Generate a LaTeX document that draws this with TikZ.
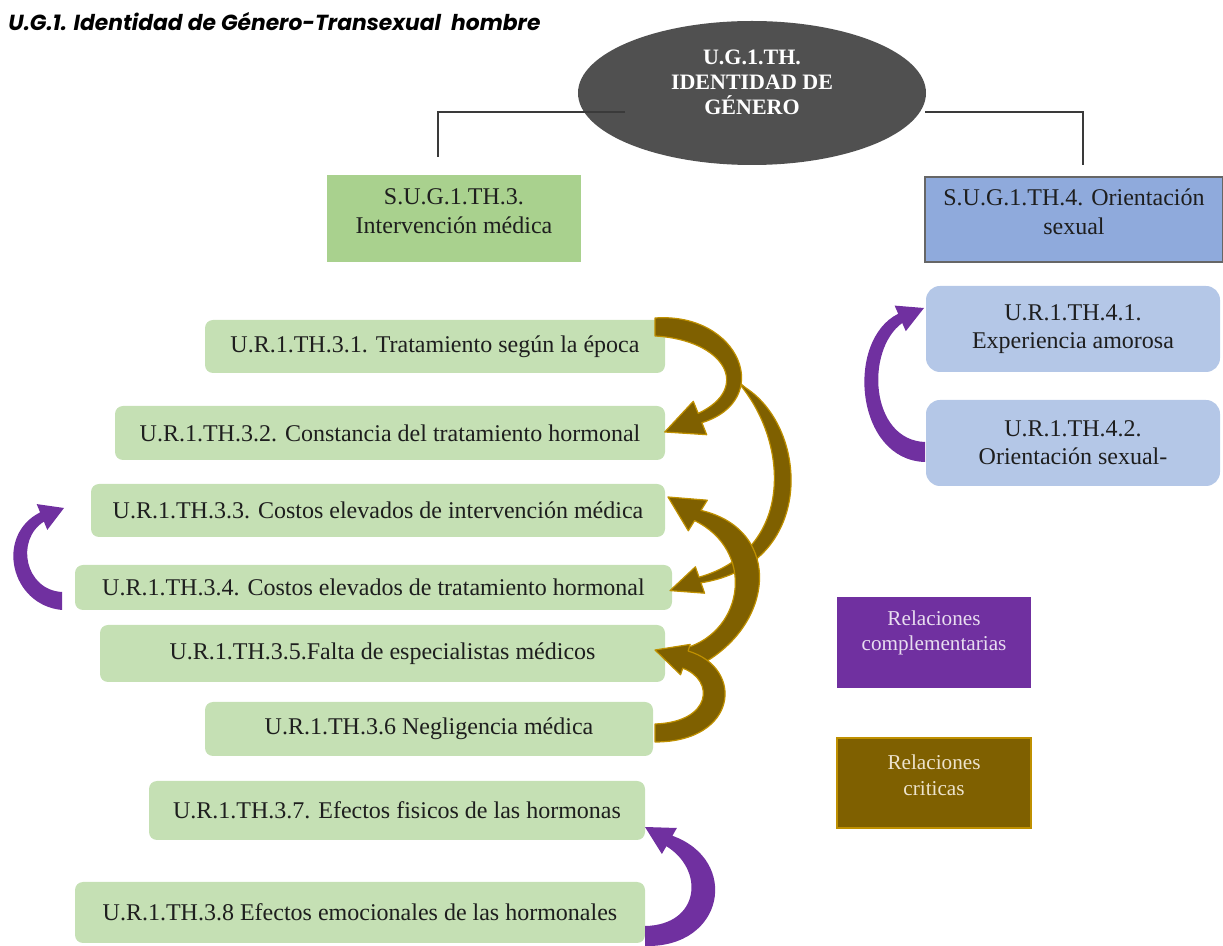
\documentclass[tikz,border=0pt]{standalone}
\usepackage{fontspec}
\setmainfont{Liberation Serif}
\newfontfamily\titlefont{Poppins}
\usetikzlibrary{shapes.geometric}
\definecolor{hdrgreen}{HTML}{A9D18E}
\definecolor{boxgreen}{HTML}{C5E0B4}
\definecolor{hdrblue}{HTML}{8FAADC}
\definecolor{boxblue}{HTML}{B4C7E7}
\definecolor{comppurple}{HTML}{7030A0}
\definecolor{critbrown}{HTML}{7F6000}
\definecolor{critgold}{HTML}{BF9000}
\definecolor{ellgray}{HTML}{505050}
\definecolor{txtdark}{HTML}{1E1E1E}
\definecolor{linegray}{HTML}{3A3A3A}
\definecolor{legtxtp}{HTML}{E8DDF0}
\definecolor{legtxtb}{HTML}{EDE3CC}
\begin{document}
\begin{tikzpicture}[x=0.5pt,y=-0.5pt,
  every node/.style={inner sep=0pt},
  lbox/.style={fill=boxgreen, rounded corners=4pt, text=txtdark, align=center,
    font=\fontsize{12}{14}\selectfont},
  rbox/.style={fill=boxblue, rounded corners=7pt, text=txtdark, align=center,
    font=\fontsize{12}{14}\selectfont},
  hbox/.style={text=txtdark, align=center, font=\fontsize{12}{14.5}\selectfont},
  legbox/.style={align=center, font=\fontsize{10.6}{12.8}\selectfont},
  conn/.style={draw=linegray, line width=1.3pt},
  crit/.style={fill=critbrown, draw=critgold, line width=0.6pt, line join=round},
  comp/.style={fill=comppurple, line join=round}]
\useasboundingbox (0,0) rectangle (1223,946);

% title
\node[anchor=west, font=\titlefont\fontsize{10.9}{13}\selectfont\bfseries\itshape] (title) at (8,22)
  {U.G.1. Identidad de Género-Transexual\ \ hombre};

% central ellipse
\node[ellipse, fill=ellgray, minimum width=174pt, minimum height=72pt] (ug) at (752,93) {};
\node[text=white, align=center, font=\fontsize{11}{12.5}\selectfont\bfseries] (ugt) at (752,82)
  {U.G.1.TH.\\IDENTIDAD DE\\GÉNERO};

% header boxes
\node[fill=hdrgreen, minimum width=127pt, minimum height=43.5pt] (s3) at (454,218.5) {};
\node[hbox] (s3t) at (454,211.5) {S.U.G.1.TH.3.\\Intervención médica};
\node[fill=hdrblue, draw=gray!80!black, line width=0.6pt, minimum width=149pt, minimum height=42.5pt] (s4) at (1074,219.5) {};
\node[hbox] (s4t) at (1074,211.5) {S.U.G.1.TH.4. Orientación\\sexual};

% connector lines
\coordinate (lA) at (625,112);
\coordinate (lB) at (438,112);
\coordinate (lC) at (438,157);
\coordinate (rA) at (925,112);
\coordinate (rB) at (1083,112);
\coordinate (rC) at (1083,165);
\draw[conn] (lA) -- (lB) -- (lC);
\draw[conn] (rA) -- (rB) -- (rC);

% right boxes
\node[rbox, minimum width=147pt, minimum height=43pt] (r41) at (1073,329) {U.R.1.TH.4.1.\\Experiencia amorosa};
\node[rbox, minimum width=147pt, minimum height=43pt] (r42) at (1073,443) {U.R.1.TH.4.2.\\Orientación sexual-};

% left boxes
\node[lbox, minimum width=230pt, minimum height=26.5pt] (b1) at (435,346.5) {U.R.1.TH.3.1. Tratamiento según la época};
\node[lbox, minimum width=275pt, minimum height=27pt] (b2) at (390,433) {U.R.1.TH.3.2. Constancia del tratamiento hormonal};
\node[lbox, minimum width=287pt, minimum height=26.5pt] (b3) at (378,510.5) {U.R.1.TH.3.3. Costos elevados de intervención médica};
\node[lbox, minimum width=298.5pt, minimum height=22.5pt] (b4) at (373.5,587.5) {U.R.1.TH.3.4. Costos elevados de tratamiento hormonal};
\node[lbox, minimum width=282.5pt, minimum height=28.5pt] (b5) at (382.5,653.5) {U.R.1.TH.3.5.Falta de especialistas médicos};
\node[lbox, minimum width=224pt, minimum height=27pt] (b6) at (429,729) {U.R.1.TH.3.6 Negligencia médica};
\node[lbox, minimum width=248pt, minimum height=29.5pt] (b7) at (397,810.5) {U.R.1.TH.3.7. Efectos fisicos de las hormonas};
\node[lbox, minimum width=285pt, minimum height=30.5pt] (b8) at (360,912.5) {U.R.1.TH.3.8 Efectos emocionales de las hormonales};

% legend
\node[fill=comppurple, minimum width=97pt, minimum height=45.5pt] (legc) at (934,642.5) {};
\node[legbox, text=legtxtp] (legct) at (934,633) {Relaciones\\complementarias};
\node[fill=critbrown, draw=critgold, line width=0.6pt, minimum width=97pt, minimum height=45pt] (legk) at (934,783) {};
\node[legbox, text=legtxtb] (legkt) at (934,775) {Relaciones\\criticas};

% critical (brown) arrows
% A2: b1 -> b4 (thin, behind A1)
\path[crit] (746,388) .. controls (810,430) and (815,565) .. (701,582.8) -- (704.6,593.2) -- (670,590.6)
  -- (695.4,566.8) -- (699,577.2) .. controls (795,550) and (790,440) .. (736,380) -- cycle;
% A1: b1 -> b2
\path[crit] (655,318) .. controls (740,312) and (775,400) .. (701.9,422.7) -- (706.7,434.7) -- (664.7,432)
  -- (693.3,401.3) -- (698.2,413.4) .. controls (752,388) and (725,340) .. (655,336) -- cycle;
% A3: b5 -> b3
\path[crit] (694,668) .. controls (775,630) and (785,530) .. (701,510.4) -- (707.3,500.2) -- (668,497)
  -- (688.3,530.8) -- (694.6,520.6) .. controls (755,550) and (745,630) .. (686,648) -- cycle;
% A4: b6 -> b5
\path[crit] (655,742) .. controls (738,742) and (745,668) .. (688.1,651) -- (690.2,644.4) -- (655,650)
  -- (680.6,674.8) -- (682.7,668.2) .. controls (715,680) and (712,722) .. (655,724) -- cycle;

% complementary (purple) arrows
% P1: b4 -> b3 (left)
\path[comp] (62,610) .. controls (10,605) and (-5,535) .. (40.1,512.4) -- (36.7,504.1) -- (64,508)
  -- (47.3,529.9) -- (43.9,521.6) .. controls (15,540) and (25,590) .. (62,592) -- cycle;
% P2: b8 -> b7
\path[comp] (645,946) .. controls (725,948) and (740,860) .. (672.4,835.8) -- (676.9,828) -- (645,827)
  -- (661.9,854) -- (666.4,846.2) .. controls (705,870) and (700,925) .. (645,926) -- cycle;
% P3: r42 -> r41
\path[comp] (925,462) .. controls (855,460) and (845,340) .. (898.2,313.8) -- (894.6,305.6) -- (924,308)
  -- (905.8,331.2) -- (902.2,323) .. controls (865,350) and (870,440) .. (925,442) -- cycle;
\end{tikzpicture}
\end{document}
